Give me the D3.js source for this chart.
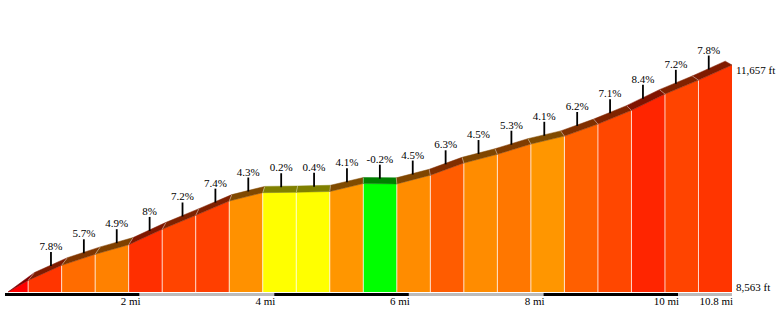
<!DOCTYPE html>
<html>
<head>
<meta charset="utf-8">
<script src="https://cdn.jsdelivr.net/npm/d3@7"></script>
<style>
  html, body { margin: 0; padding: 0; background: #fff; }
  svg { display: block; }
  text { font-family: "Liberation Serif", "Times New Roman", "DejaVu Serif", serif; font-size: 11px; fill: #000; }
</style>
</head>
<body>
<svg id="chart" width="780" height="325"></svg>
<script>
// Segment boundaries (miles) and elevation (ft) at each boundary
const distances = [0, 0.3, 0.8, 1.3, 1.8, 2.3, 2.8, 3.3, 3.8, 4.3, 4.8, 5.3, 5.8, 6.3, 6.8, 7.3, 7.8, 8.3, 8.8, 9.3, 9.8, 10.3, 10.8];
const elevations = [8563, 8721, 8927, 9077, 9207, 9418, 9608, 9803, 9917, 9922, 9933, 10041, 10036, 10155, 10321, 10440, 10580, 10688, 10852, 11039, 11261, 11451, 11657];
// Grade of each segment (%) and its label
const grades = [10.0, 7.8, 5.7, 4.9, 8, 7.2, 7.4, 4.3, 0.2, 0.4, 4.1, -0.2, 4.5, 6.3, 4.5, 5.3, 4.1, 6.2, 7.1, 8.4, 7.2, 7.8];
const gradeLabels = ["", "7.8%", "5.7%", "4.9%", "8%", "7.2%", "7.4%", "4.3%", "0.2%", "0.4%", "4.1%", "-0.2%", "4.5%", "6.3%", "4.5%", "5.3%", "4.1%", "6.2%", "7.1%", "8.4%", "7.2%", "7.8%"];
// Axis
const mileTicks = [2, 4, 6, 8, 10, 10.8];
const mileTickLabels = ["2 mi", "4 mi", "6 mi", "8 mi", "10 mi", "10.8 mi"];
const axisBands = [0, 2, 4, 6, 8, 10, 10.8];
const elevLabels = ["11,657 ft", "8,563 ft"];

const svg = d3.select("#chart");
const x = d3.scaleLinear().domain([0, 10.8]).range([8, 732]);
const xAxis = d3.scaleLinear().domain([0, 10.8]).range([5, 732]);
const y = d3.scaleLinear().domain([8563, 11657]).range([292, 65]);
const base = y.range()[0];

function frontColor(g) {
  if (g < 0) return "#00ff00";
  if (g < 1) return "#ffff00";
  return d3.scaleLinear().domain([4, 8.5, 10]).range(["#ff9900", "#ff2200", "#ff0000"]).clamp(true)(g);
}
function topColor(g) {
  const c = d3.rgb(frontColor(g));
  return d3.rgb(c.r / 2, c.g / 2, c.b / 2).formatHex();
}
// perspective offset of the top surface
const vp = [369, -140], t = 0.0188;
function back(px, py) { return [px + (vp[0] - px) * t, py + (vp[1] - py) * t]; }

const segs = grades.map((g, i) => ({
  g, label: gradeLabels[i],
  x0: x(distances[i]), x1: x(distances[i + 1]),
  y0: y(elevations[i]), y1: y(elevations[i + 1])
}));

const gFront = svg.append("g");
const gTop = svg.append("g");

segs.forEach((s, i) => {
  gFront.append("path")
    .attr("d", `M${s.x0},${base}L${s.x0},${s.y0}L${s.x1},${s.y1}L${s.x1},${base}Z`)
    .attr("fill", frontColor(s.g));
  const b0 = i === 0 ? [s.x0, s.y0] : back(s.x0, s.y0);
  const b1 = back(s.x1, s.y1);
  gTop.append("path")
    .attr("d", `M${s.x0},${s.y0}L${s.x1},${s.y1}L${b1[0]},${b1[1]}L${b0[0]},${b0[1]}Z`)
    .attr("fill", topColor(s.g))
    .attr("stroke", topColor(s.g)).attr("stroke-width", 0.5);
});

// separators
segs.slice(1).forEach(s => {
  gFront.append("line")
    .attr("x1", s.x0).attr("x2", s.x0).attr("y1", s.y0).attr("y2", base)
    .attr("stroke", "rgba(255,255,255,0.75)").attr("stroke-width", 1);
  const b = back(s.x0, s.y0);
  gTop.append("line")
    .attr("x1", s.x0).attr("y1", s.y0).attr("x2", b[0]).attr("y2", b[1])
    .attr("stroke", "rgba(255,255,255,0.4)").attr("stroke-width", 1);
});

// grade ticks and labels
const gLab = svg.append("g");
segs.forEach(s => {
  if (!s.label) return;
  const mx = (s.x0 + s.x1) / 2, my = (s.y0 + s.y1) / 2;
  const b = back(mx, my);
  gLab.append("line")
    .attr("x1", b[0]).attr("x2", b[0]).attr("y1", b[1] + 1).attr("y2", b[1] - 13)
    .attr("stroke", "#000").attr("stroke-width", 1.8);
  gLab.append("text")
    .attr("x", b[0]).attr("y", b[1] - 15)
    .attr("text-anchor", "middle").text(s.label);
});

// distance axis bar
for (let i = 0; i < axisBands.length - 1; i++) {
  svg.append("rect")
    .attr("x", xAxis(axisBands[i])).attr("y", 293)
    .attr("width", xAxis(axisBands[i + 1]) - xAxis(axisBands[i])).attr("height", 3)
    .attr("fill", i % 2 === 0 ? "#000" : "#bbbbbb");
}
mileTicks.forEach((m, i) => {
  svg.append("text").attr("x", xAxis(m) + 1).attr("y", 305)
    .attr("text-anchor", "end").text(mileTickLabels[i]);
});

// elevation labels
svg.append("text").attr("x", 736).attr("y", y(11657) + 9).text(elevLabels[0]);
svg.append("text").attr("x", 736).attr("y", y(8563) - 1).text(elevLabels[1]);
</script>
</body>
</html>
